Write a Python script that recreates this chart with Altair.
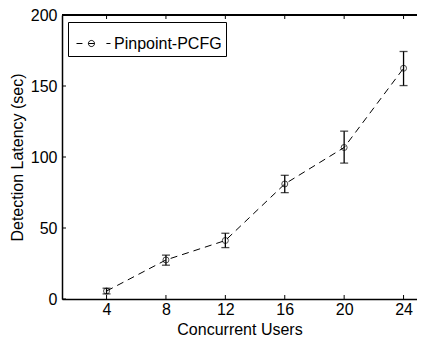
import altair as alt
import pandas as pd

users = [4, 8, 12, 16, 20, 24]
latency = [5.6, 27.5, 41.2, 81.0, 106.7, 162.5]
err_lo = [3.6, 23.8, 36.2, 74.9, 95.7, 150.3]
err_hi = [7.6, 30.9, 46.3, 87.1, 118.2, 174.3]
series = ["Pinpoint-PCFG"] * 6
x_ticks = [4, 8, 12, 16, 20, 24]
y_ticks = [0, 50, 100, 150, 200]

W, H = 355, 284
FONT = "Liberation Sans"

df = pd.DataFrame({"users": users, "latency": latency, "lo": err_lo, "hi": err_hi, "series": series})
xt = pd.DataFrame({"t": x_ticks})
yt = pd.DataFrame({"t": y_ticks})

xs = alt.Scale(domain=[1, 1 + W / 14.85], nice=False, zero=False)
ys = alt.Scale(domain=[0, 200], nice=False)

legend_sym = ("M-1,0L-0.65,0M-0.3,0L0.06,0"
              "M-0.30,0A0.18,0.18,0,1,1,0.06,0A0.18,0.18,0,1,1,-0.30,0"
              "M0.76,0L1,0")

x_enc = alt.X("users:Q", scale=xs,
              axis=alt.Axis(values=x_ticks, title="Concurrent Users", grid=False,
                            ticks=False, tickSize=0, labelPadding=2,
                            titleBaseline="alphabetic", titleY=35.5))
y_enc = alt.Y("latency:Q", scale=ys,
              axis=alt.Axis(values=y_ticks, title="Detection Latency (sec)", grid=False,
                            ticks=False, tickSize=0, labelPadding=5, titlePadding=5))

line = alt.Chart(df).mark_line(strokeDash=[7, 5], strokeWidth=1).encode(
    x=x_enc, y=y_enc,
    color=alt.Color("series:N", scale=alt.Scale(range=["black"]),
                    legend=alt.Legend(title=None, orient="none", legendX=6, legendY=7,
                                      symbolType=legend_sym, symbolSize=1156,
                                      symbolStrokeColor="black", symbolStrokeWidth=1,
                                      symbolFillColor="transparent", symbolOffset=4,
                                      labelFontSize=16, labelFont=FONT, labelColor="black",
                                      labelOffset=3, strokeColor="black", padding=4,
                                      fillColor="white")),
)
pts = alt.Chart(df).mark_point(shape="circle", size=36, filled=False, color="black",
                               strokeWidth=1).encode(x="users:Q", y="latency:Q")
rule = alt.Chart(df).mark_rule(color="black", strokeWidth=1.3).encode(
    x="users:Q", y="lo:Q", y2="hi:Q")
cap_lo = alt.Chart(df).mark_tick(orient="horizontal", size=8, thickness=1.3, color="black").encode(
    x="users:Q", y="lo:Q")
cap_hi = alt.Chart(df).mark_tick(orient="horizontal", size=8, thickness=1.3, color="black").encode(
    x="users:Q", y="hi:Q")

bt = alt.Chart(xt).mark_rule(color="black").encode(x="t:Q", y=alt.value(H), y2=alt.value(H - 4))
tt = alt.Chart(xt).mark_rule(color="black").encode(x="t:Q", y=alt.value(0), y2=alt.value(4))
lt = alt.Chart(yt).mark_rule(color="black").encode(y="t:Q", x=alt.value(0), x2=alt.value(4))
top = alt.Chart(xt).mark_rule(color="black", strokeWidth=1.5).encode(
    y=alt.value(0), x=alt.value(0), x2=alt.value(W))

chart = alt.layer(top, bt, tt, lt, line, rule, cap_lo, cap_hi, pts).properties(
    width=W, height=H,
    autosize=alt.AutoSizeParams(type="none"),
    padding={"left": 54, "top": 7, "right": 0, "bottom": 38},
).configure_view(stroke=None).configure_axis(
    labelFont=FONT, titleFont=FONT, labelFontSize=16, titleFontSize=16,
    labelColor="black", titleColor="black", titleFontWeight="normal",
    domainColor="black", domainWidth=1.5,
)

chart.save("out.html", embed_options={"renderer": "svg", "actions": False})
